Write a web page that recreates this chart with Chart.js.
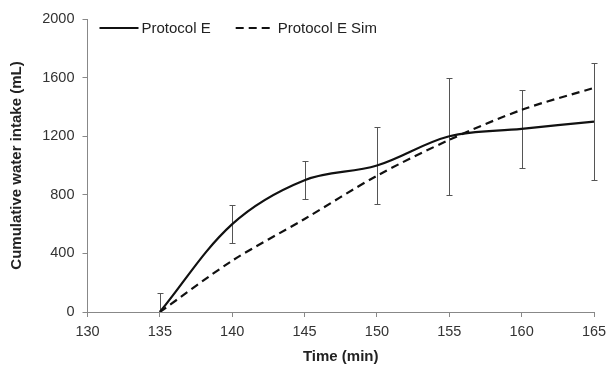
<!DOCTYPE html>
<html>
<head>
<meta charset="utf-8">
<script src="https://cdn.jsdelivr.net/npm/chart.js@4.4.1/dist/chart.umd.min.js"></script>
<style>
  body { margin: 0; background: #fff; }
  canvas { display: block; }
</style>
</head>
<body>
<canvas id="waterChart" width="608" height="366"></canvas>
<script>
// data
const timeMin = [135, 140, 145, 150, 155, 160, 165];
const protocolE = [0, 600, 900, 1000, 1200, 1250, 1300];
const protocolEErr = [130, 130, 130, 265, 400, 265, 400];
const protocolESim = [0, 350, 635, 930, 1175, 1380, 1530];

const xTicks = { min: 130, max: 165, step: 5 };
const yTicks = { min: 0, max: 2000, step: 400 };

const FONT = "'Liberation Sans', Arial, sans-serif";

// error bars for Protocol E
const errorBars = {
  id: 'errorBars',
  beforeDatasetsDraw(chart) {
    const { ctx, chartArea, scales } = chart;
    ctx.save();
    ctx.beginPath();
    ctx.rect(chartArea.left - 5, chartArea.top - 2, chartArea.right - chartArea.left + 10, chartArea.bottom - chartArea.top + 1.5);
    ctx.clip();
    ctx.strokeStyle = '#555';
    ctx.lineWidth = 1;
    timeMin.forEach((t, i) => {
      const x = Math.round(scales.x.getPixelForValue(t)) + 0.5;
      const yHi = Math.round(scales.y.getPixelForValue(protocolE[i] + protocolEErr[i])) + 0.5;
      const yLo = Math.round(scales.y.getPixelForValue(protocolE[i] - protocolEErr[i])) + 0.5;
      ctx.beginPath();
      ctx.moveTo(x, yHi); ctx.lineTo(x, yLo);
      ctx.moveTo(x - 3, yHi); ctx.lineTo(x + 3, yHi);
      ctx.moveTo(x - 3, yLo); ctx.lineTo(x + 3, yLo);
      ctx.stroke();
    });
    ctx.restore();
  }
};

// legend drawn inside the plot, top left
const insideLegend = {
  id: 'insideLegend',
  afterDraw(chart) {
    const { ctx, chartArea } = chart;
    let x = chartArea.left + 12;
    const y = chartArea.top + 9;
    ctx.save();
    ctx.font = '15px ' + FONT;
    ctx.textBaseline = 'middle';
    ctx.fillStyle = '#222';
    chart.data.datasets.forEach(ds => {
      ctx.beginPath();
      ctx.strokeStyle = ds.borderColor;
      ctx.lineWidth = ds.borderWidth;
      ctx.setLineDash(ds.borderDash || []);
      ctx.moveTo(x, y); ctx.lineTo(x + 39, y);
      ctx.stroke();
      ctx.setLineDash([]);
      ctx.fillText(ds.label, x + 42, y + 1);
      x += 42 + ctx.measureText(ds.label).width + 25;
    });
    ctx.restore();
  }
};

new Chart(document.getElementById('waterChart').getContext('2d'), {
  type: 'line',
  data: {
    datasets: [{
      label: 'Protocol E',
      data: timeMin.map((t, i) => ({ x: t, y: protocolE[i] })),
      borderColor: '#111',
      borderWidth: 2.2,
      tension: 0.35,
      pointRadius: 0
    }, {
      label: 'Protocol E Sim',
      data: timeMin.map((t, i) => ({ x: t, y: protocolESim[i] })),
      borderColor: '#111',
      borderWidth: 2.2,
      borderDash: [8, 5],
      tension: 0.3,
      pointRadius: 0
    }]
  },
  options: {
    responsive: false,
    animation: false,
    layout: { padding: { top: 19, right: 14, bottom: 0, left: 0 } },
    plugins: { legend: { display: false }, tooltip: { enabled: false } },
    scales: {
      x: {
        type: 'linear',
        min: xTicks.min, max: xTicks.max,
        ticks: { stepSize: xTicks.step, color: '#333', font: { family: FONT, size: 14.5 }, padding: 6,
                 callback: v => String(v) },
        grid: { drawOnChartArea: false, tickLength: 5, color: '#888' },
        border: { color: '#888' },
        title: { display: true, text: 'Time (min)', color: '#222', font: { family: FONT, size: 15, weight: 'bold' }, padding: { top: 0, bottom: 0 } },
        afterFit: s => { s.height = 54; s.paddingLeft = 0; s.paddingRight = 0; }
      },
      y: {
        min: yTicks.min, max: yTicks.max,
        ticks: { stepSize: yTicks.step, color: '#333', font: { family: FONT, size: 14.5 }, padding: 8,
                 callback: v => String(v) },
        grid: { drawOnChartArea: false, tickLength: 5, color: '#888' },
        border: { color: '#888' },
        title: { display: true, text: 'Cumulative water intake (mL)', color: '#222', font: { family: FONT, size: 15, weight: 'bold' }, padding: { top: 8, bottom: 0 } },
        afterFit: s => { s.width = 87.5; s.paddingTop = 0; s.paddingBottom = 0; }
      }
    }
  },
  plugins: [errorBars, insideLegend]
});
</script>
</body>
</html>
